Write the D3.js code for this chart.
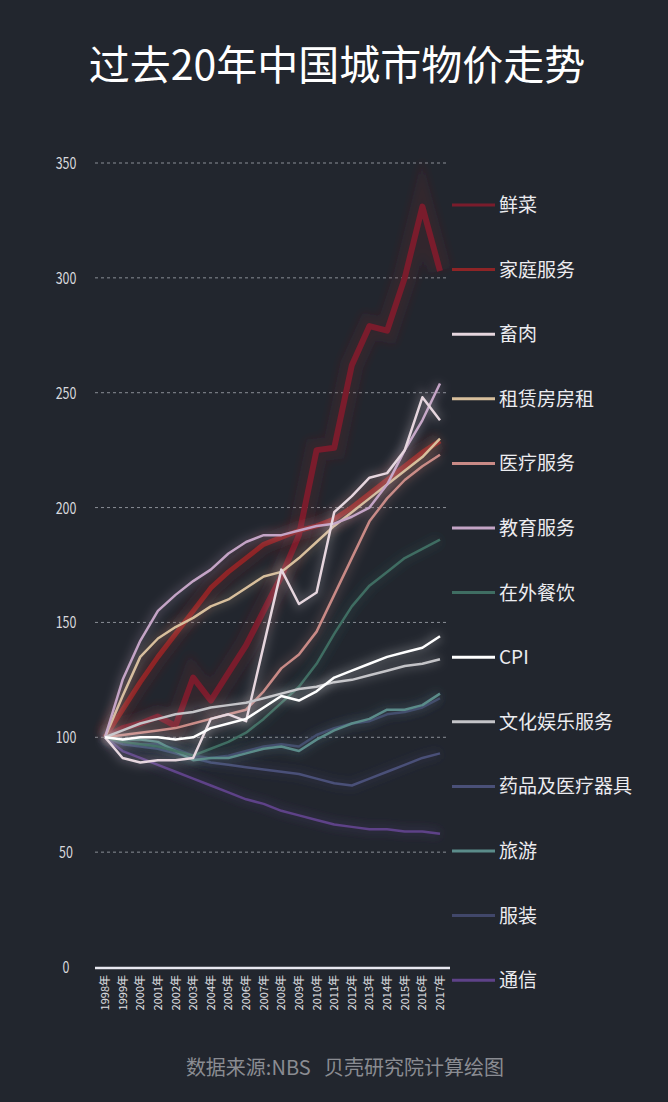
<!DOCTYPE html>
<html>
<head>
<meta charset="utf-8">
<script src="https://cdn.jsdelivr.net/npm/d3@7"></script>
<style>
  body { margin: 0; background: #22262e; }
  text { font-family: "Noto Sans CJK SC", "Noto Sans", sans-serif; }
</style>
</head>
<body>
<div class="chart"></div>
<script>
var years = d3.range(1998, 2018);
var yTicks = [0, 50, 100, 150, 200, 250, 300, 350];

var names = ['鲜菜', '家庭服务', '畜肉', '租赁房房租', '医疗服务', '教育服务', '在外餐饮',
  'CPI', '文化娱乐服务', '药品及医疗器具', '旅游', '服装', '通信'];
var colors = ['#7a1c2c', '#8e2426', '#e6d6de', '#d8bf9c', '#c98a86', '#c4a4c6', '#3f6d62',
  '#ffffff', '#c4c4c8', '#4a5078', '#5b8c8a', '#41476a', '#5e4288'];
var widths = [6, 5, 2.5, 2.5, 2.5, 2.5, 2.5, 2.5, 2.5, 2.5, 2.5, 2.5, 2.5];

var vegetables = [100, 104, 106, 109, 105, 126, 116, 128, 140, 155, 170, 188, 225, 226, 262, 279, 277, 300, 331, 303];
var household = [100, 112, 124, 135, 145, 155, 165, 172, 178, 184, 187, 190, 192, 195, 200, 206, 212, 218, 224, 229];
var meat = [100, 91, 89, 90, 90, 91, 108, 110, 107, 140, 173, 158, 163, 198, 205, 213, 215, 225, 248, 238];
var rent = [100, 118, 135, 143, 148, 152, 157, 160, 165, 170, 172, 178, 185, 192, 198, 204, 210, 216, 222, 230];
var medical = [100, 101, 102, 103, 104, 106, 108, 110, 112, 120, 130, 136, 146, 162, 178, 194, 204, 212, 218, 223];
var education = [100, 125, 142, 155, 162, 168, 173, 180, 185, 188, 188, 190, 192, 193, 196, 200, 210, 225, 238, 254];
var dining = [100, 98, 97, 96, 94, 92, 95, 98, 102, 108, 115, 122, 132, 145, 157, 166, 172, 178, 182, 186];
var cpi = [100, 99, 100, 100, 99, 100, 104, 106, 108, 113, 118, 116, 120, 126, 129, 132, 135, 137, 139, 144];
var culture = [100, 103, 106, 108, 110, 111, 113, 114, 115, 117, 119, 121, 122, 124, 125, 127, 129, 131, 132, 134];
var drugs = [100, 97, 96, 95, 93, 91, 89, 88, 87, 86, 85, 84, 82, 80, 79, 82, 85, 88, 91, 93];
var travel = [100, 99, 99, 98, 94, 90, 91, 91, 93, 95, 96, 94, 99, 103, 106, 108, 112, 112, 114, 119];
var clothing = [100, 98, 97, 97, 95, 92, 91, 92, 94, 96, 97, 96, 101, 104, 106, 107, 110, 111, 113, 117];
var telecom = [100, 94, 91, 88, 85, 82, 79, 76, 73, 71, 68, 66, 64, 62, 61, 60, 60, 59, 59, 58];

var series = [vegetables, household, meat, rent, medical, education, dining,
  cpi, culture, drugs, travel, clothing, telecom];
// draw order: thick reds underneath, CPI on top
var drawOrder = [0, 1, 12, 11, 9, 10, 6, 4, 3, 5, 2, 8, 7];

var W = 668, H = 1102;
var svg = d3.select('.chart').append('svg').attr('width', W).attr('height', H);

var x = d3.scalePoint().domain(years).range([105, 440]);
var y = d3.scaleLinear().domain([0, 350]).range([967, 163]);

svg.append('text')
  .attr('x', W / 2 + 3).attr('y', 80)
  .attr('text-anchor', 'middle')
  .attr('fill', '#ffffff')
  .attr('font-size', 41)
  .text('过去20年中国城市物价走势');

// grid + y labels
yTicks.forEach(function (t) {
  if (t > 0) {
    svg.append('line')
      .attr('x1', 95).attr('x2', 448)
      .attr('y1', y(t)).attr('y2', y(t))
      .attr('stroke', '#8a8e96').attr('stroke-width', 1)
      .attr('stroke-dasharray', '3,3');
  }
  svg.append('text')
    .attr('text-anchor', 'middle')
    .attr('fill', '#d8d8dc')
    .attr('font-size', 16)
    .attr('transform', 'translate(66,' + (y(t) + 6) + ') scale(0.78,1)')
    .text(t);
});

svg.append('line')
  .attr('x1', 95).attr('x2', 450)
  .attr('y1', 968).attr('y2', 968)
  .attr('stroke', '#e8e8f0').attr('stroke-width', 2.5);

years.forEach(function (yr) {
  svg.append('text')
    .attr('transform', 'translate(' + (x(yr) + 4) + ',975) rotate(-90)')
    .attr('text-anchor', 'end')
    .attr('fill', '#e0e0e4')
    .attr('font-size', 11)
    .text(yr + '年');
});

var line = d3.line()
  .x(function (d, i) { return x(years[i]); })
  .y(function (d) { return y(d); });

var defs = svg.append('defs');
defs.append('filter').attr('id', 'glow')
  .attr('x', '-20%').attr('y', '-20%').attr('width', '140%').attr('height', '140%')
  .append('feGaussianBlur').attr('stdDeviation', 4);

drawOrder.forEach(function (k) {
  svg.append('path')
    .datum(series[k])
    .attr('d', line)
    .attr('fill', 'none')
    .attr('stroke', colors[k])
    .attr('stroke-width', widths[k] * 4)
    .attr('stroke-opacity', 0.18)
    .attr('filter', 'url(#glow)');
  svg.append('path')
    .datum(series[k])
    .attr('d', line)
    .attr('fill', 'none')
    .attr('stroke', colors[k])
    .attr('stroke-width', widths[k])
    .attr('stroke-linejoin', 'round');
});

// legend
names.forEach(function (n, i) {
  var ly = 205 + i * 64.6;
  svg.append('line')
    .attr('x1', 452).attr('x2', 495)
    .attr('y1', ly).attr('y2', ly)
    .attr('stroke', colors[i]).attr('stroke-width', 3);
  svg.append('text')
    .attr('x', 499).attr('y', ly + 7)
    .attr('fill', '#ececf0')
    .attr('font-size', 19)
    .text(n);
});

svg.append('text')
  .attr('x', 345).attr('y', 1075)
  .attr('text-anchor', 'middle')
  .attr('fill', '#8a8c92')
  .attr('font-size', 20)
  .attr('xml:space', 'preserve')
  .style('white-space', 'pre')
  .text('数据来源:NBS   贝壳研究院计算绘图');
</script>
</body>
</html>
